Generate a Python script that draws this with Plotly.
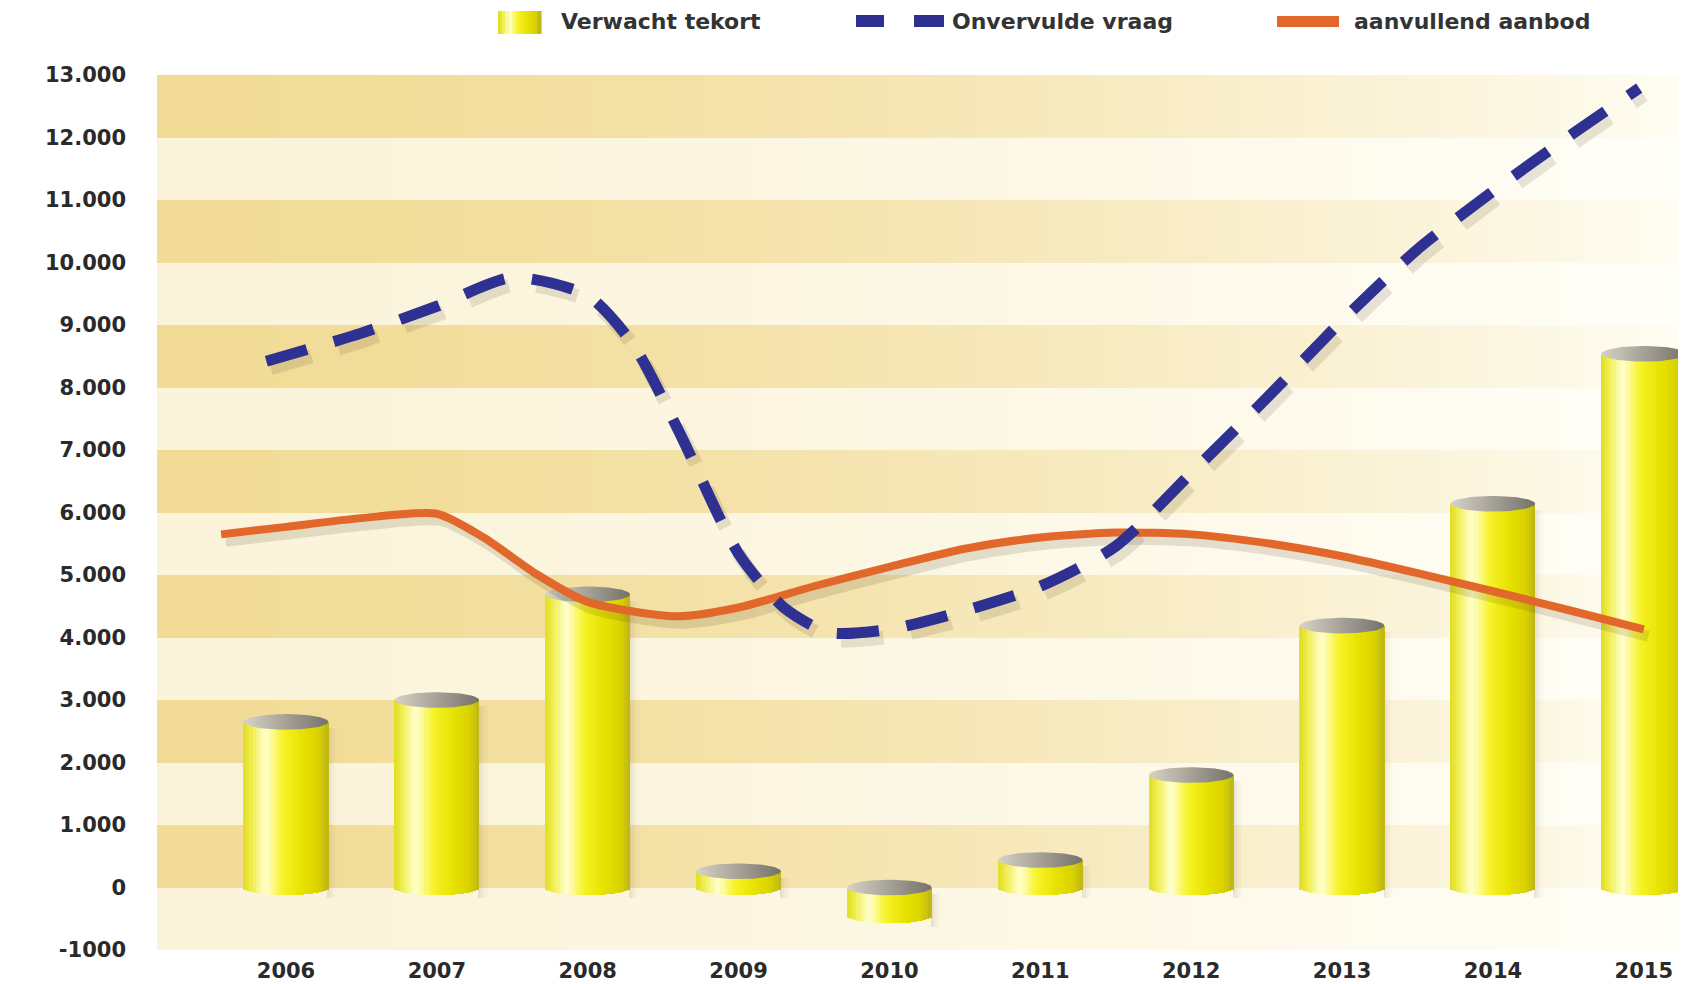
import numpy as np
import plotly.graph_objects as go

# ---------------- data ----------------
years = list(range(2006, 2016))
year_labels = [str(y) for y in years]
tekort = [2650, 3000, 4690, 260, -450, 440, 1800, 4190, 6140, 8540]  # Verwacht tekort

vraag_x = [2005.87, 2006.5, 2007.0, 2007.5, 2008.0, 2008.3, 2008.6, 2009.0, 2009.3, 2009.6,
           2010.0, 2010.5, 2011.0, 2011.5, 2012.0, 2012.5, 2013.0, 2013.5, 2014.0, 2014.5, 2014.97]
vraag_y = [8420, 8870, 9300, 9760, 9470, 8690, 7320, 5340, 4480, 4080,
           4130, 4430, 4820, 5460, 6630, 7830, 9070, 10210, 11140, 12010, 12790]  # Onvervulde vraag

aanbod_x = [2005.57, 2006.0, 2006.5, 2007.0, 2007.31, 2007.67, 2008.0, 2008.59, 2009.0, 2009.5,
            2010.0, 2010.5, 2011.0, 2011.5, 2012.0, 2012.5, 2013.0, 2013.5, 2014.0, 2014.5, 2015.0]
aanbod_y = [5650, 5770, 5910, 5980, 5600, 5000, 4570, 4340, 4480, 4820,
            5130, 5420, 5600, 5680, 5650, 5510, 5300, 5030, 4740, 4440, 4130]  # aanvullend aanbod

y_tickvals = list(range(-1000, 14000, 1000))
y_ticktext = ["-1000", "0"] + [f"{v // 1000}.000" for v in range(1000, 14000, 1000)]

series_names = ["Verwacht tekort", "Onvervulde vraag", "aanvullend aanbod"]

# ---------------- styling ----------------
BLUE = "#2E3192"
ORANGE = "#E2672B"
TEXT = "#2A2A2A"
FONT = "DejaVu Sans"
X_RANGE = [2005.145, 2015.28]
Y_RANGE = [-1000, 13000]
BAR_W = 0.56
CAP_H = 125  # half-height of the cylinder ellipses (y units)
N_STRIPS = 28

PAGE_OFF = 8  # default body margin of the html page
W, H = 1686 - PAGE_OFF, 984 - PAGE_OFF
ML, MR, MT, MB = 149, 0, 67, 34
PW, PH = W - ML - MR, H - MT - MB


def lerp(c1, c2, t):
    return tuple(int(round(a + (b - a) * t)) for a, b in zip(c1, c2))


def rgb(c):
    return f"rgb({c[0]},{c[1]},{c[2]})"


CYL_STOPS = [(0.0, (226, 224, 40)), (0.08, (240, 238, 80)), (0.25, (255, 255, 208)),
             (0.34, (252, 250, 140)), (0.46, (246, 242, 40)), (0.70, (232, 226, 0)),
             (0.90, (218, 210, 0)), (1.0, (194, 186, 20))]


def cyl_color(t):
    for (p0, c0), (p1, c1) in zip(CYL_STOPS[:-1], CYL_STOPS[1:]):
        if p0 <= t <= p1:
            return lerp(c0, c1, (t - p0) / (p1 - p0))
    return CYL_STOPS[-1][1]


fig = go.Figure()

# ---------------- background bands (heatmap) ----------------
nx = 140
hx = np.linspace(X_RANGE[0], X_RANGE[1], nx)
frac = ((hx - X_RANGE[0]) / (X_RANGE[1] - X_RANGE[0])) ** 1.6
band_centers = list(range(-500, 13000, 1000))
z = []
for k, yc in enumerate(band_centers):
    if k % 2 == 1:  # dark band
        z.append(list(frac * 0.49))
    else:
        z.append(list(0.51 + frac * 0.49))
fig.add_trace(go.Heatmap(
    x=hx, y=band_centers, z=z, zmin=0, zmax=1, zsmooth=False, showscale=False,
    colorscale=[[0, "rgb(241,219,150)"], [0.49, "rgb(255,253,243)"],
                [0.51, "rgb(251,244,219)"], [1, "rgb(255,254,248)"]],
    hoverinfo="skip"))

# ---------------- cylinder bars ----------------
tops = [max(v, 0) for v in tekort]
lows = [min(v, 0) for v in tekort]

# soft shadow on the right of each bar
for j, a in enumerate([0.14, 0.10, 0.06, 0.035, 0.015]):
    sw = 0.013
    fig.add_trace(go.Bar(
        x=years, y=[t - l + CAP_H * 0.6 for t, l in zip(tops, lows)],
        base=[l - CAP_H * 1.4 for l in lows],
        width=sw, offset=BAR_W / 2 - 0.005 + j * sw,
        marker=dict(color=f"rgba(110,90,40,{a})", line=dict(width=0)),
        showlegend=False, hoverinfo="skip"))

for i in range(N_STRIPS):
    u = -1 + (2 * i + 1) / N_STRIPS
    depth = CAP_H * np.sqrt(max(0.0, 1 - u * u))
    sw = BAR_W / N_STRIPS
    fig.add_trace(go.Bar(
        x=years,
        y=[t - (l - depth) for t, l in zip(tops, lows)],
        base=[l - depth for l in lows],
        width=sw * 1.2, offset=-BAR_W / 2 + i * sw - sw * 0.1,
        marker=dict(color=rgb(cyl_color(i / (N_STRIPS - 1))), line=dict(width=0)),
        name=series_names[0], showlegend=False, hoverinfo="skip"))

# top ellipses (inside of the tube)
theta = np.linspace(0, 2 * np.pi, 72)
for yr, t in zip(years, tops):
    fig.add_trace(go.Scatter(
        x=yr + BAR_W / 2 * np.cos(theta), y=t + CAP_H * np.sin(theta),
        mode="lines", fill="toself", line=dict(width=0, color="rgba(0,0,0,0)"),
        fillgradient=dict(type="horizontal",
                          colorscale=[[0, "#D6D2C6"], [0.5, "#A5A197"], [1, "#75726A"]]),
        showlegend=False, hoverinfo="skip"))

# ---------------- lines ----------------
fig.add_trace(go.Scatter(
    x=[v + 0.03 for v in aanbod_x], y=[v - 110 for v in aanbod_y], mode="lines",
    line=dict(color="rgba(70,55,20,0.14)", width=11, shape="spline", smoothing=0.7),
    showlegend=False, hoverinfo="skip"))
fig.add_trace(go.Scatter(
    x=aanbod_x, y=aanbod_y, mode="lines", name=series_names[2],
    line=dict(color=ORANGE, width=8, shape="spline", smoothing=0.7),
    showlegend=False, hoverinfo="skip"))

fig.add_trace(go.Scatter(
    x=[v + 0.03 for v in vraag_x], y=[v - 110 for v in vraag_y], mode="lines",
    line=dict(color="rgba(70,55,20,0.13)", width=14, shape="spline", smoothing=0.7,
              dash="42px,28px"),
    showlegend=False, hoverinfo="skip"))
fig.add_trace(go.Scatter(
    x=vraag_x, y=vraag_y, mode="lines", name=series_names[1],
    line=dict(color=BLUE, width=11, shape="spline", smoothing=0.7, dash="42px,28px"),
    showlegend=False, hoverinfo="skip"))


# ---------------- manual legend (top) ----------------
def px_x(p):  # page pixel -> paper x
    return (p - PAGE_OFF - ML) / PW


def px_y(p):  # page pixel -> paper y
    return (H - MB - (p - PAGE_OFF)) / PH


shapes = []
sx0, sx1, sy0, sy1 = 498, 541, 11, 34
ns = 12
for i in range(ns):
    a = sx0 + (sx1 - sx0) * i / ns
    b = sx0 + (sx1 - sx0) * (i + 1) / ns + 0.6
    shapes.append(dict(type="rect", xref="paper", yref="paper",
                       x0=px_x(a), x1=px_x(b), y0=px_y(sy1), y1=px_y(sy0),
                       fillcolor=rgb(cyl_color(i / (ns - 1))), line=dict(width=0)))
for a, b in [(856, 884), (914, 944)]:
    shapes.append(dict(type="rect", xref="paper", yref="paper",
                       x0=px_x(a), x1=px_x(b), y0=px_y(27), y1=px_y(15),
                       fillcolor=BLUE, line=dict(width=0)))
shapes.append(dict(type="rect", xref="paper", yref="paper",
                   x0=px_x(1277), x1=px_x(1339), y0=px_y(27), y1=px_y(16),
                   fillcolor=ORANGE, line=dict(width=0)))

annotations = []
for txt, xp in zip(series_names, [559, 950, 1352]):
    annotations.append(dict(text=txt, xref="paper", yref="paper",
                            x=px_x(xp), y=px_y(21), xanchor="left", yanchor="middle",
                            showarrow=False,
                            font=dict(family=FONT, size=22, color="#333333", weight="bold")))

fig.update_layout(
    width=W, height=H,
    margin=dict(l=ML, r=MR, t=MT, b=MB),
    paper_bgcolor="white", plot_bgcolor="white",
    barmode="overlay", bargap=0, showlegend=False, hovermode=False,
    shapes=shapes, annotations=annotations,
    xaxis=dict(range=X_RANGE, tickvals=years, ticktext=year_labels, showgrid=False,
               zeroline=False, showline=False, ticks="", ticklabelstandoff=6,
               tickfont=dict(family=FONT, size=21, color=TEXT, weight="bold")),
    yaxis=dict(range=Y_RANGE, tickvals=y_tickvals, ticktext=y_ticktext, showgrid=False,
               zeroline=False, showline=False, ticks="", ticklabelstandoff=30,
               tickfont=dict(family=FONT, size=21, color=TEXT, weight="bold")),
)

fig.write_html("out.html")
